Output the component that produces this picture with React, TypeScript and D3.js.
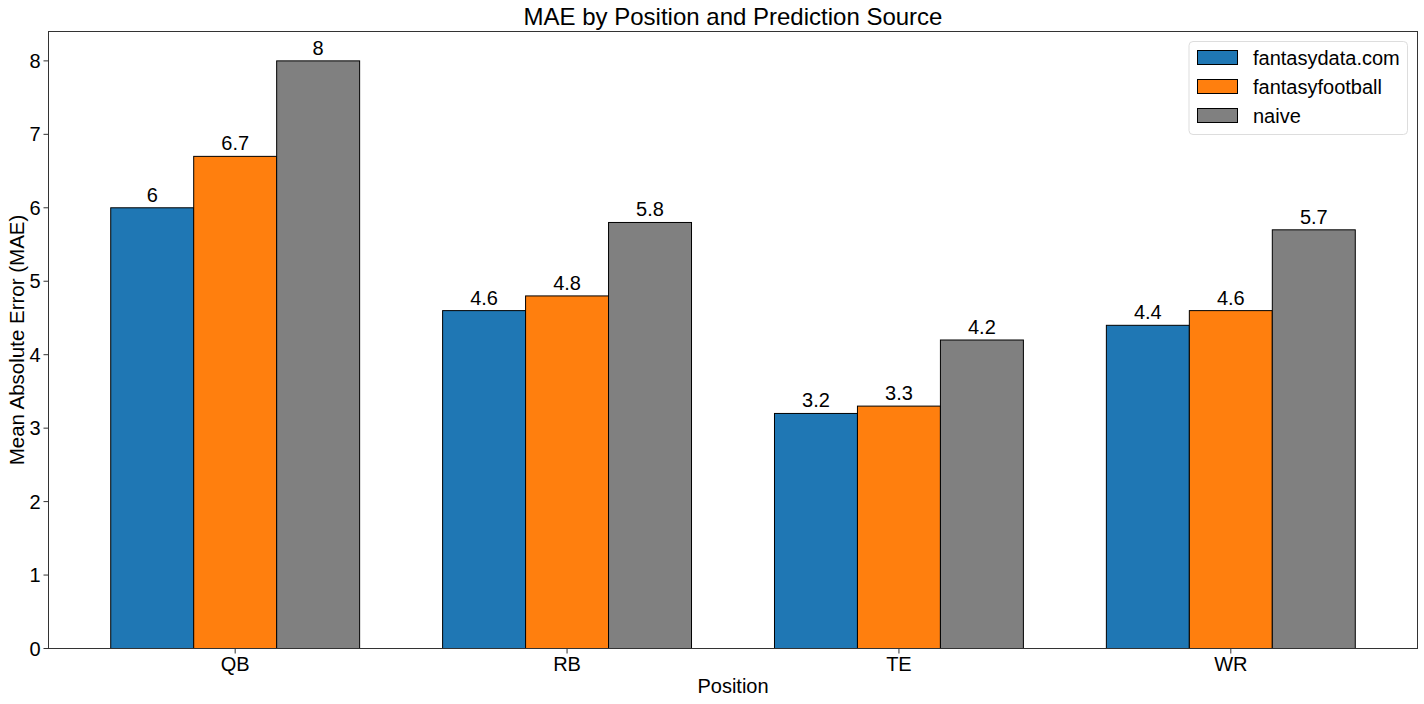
import React from "react";
import * as d3 from "d3";

const positions = ["QB", "RB", "TE", "WR"];
const sources = ["fantasydata.com", "fantasyfootball", "naive"];
const colors = ["#1f77b4", "#ff7f0e", "#808080"];
const fantasydata = [6, 4.6, 3.2, 4.4];
const fantasyfootball = [6.7, 4.8, 3.3, 4.6];
const naive = [8, 5.8, 4.2, 5.7];
const yTicks = [0, 1, 2, 3, 4, 5, 6, 7, 8];

const series = [fantasydata, fantasyfootball, naive];

export default function App() {
  const W = 1424, H = 704;
  const left = 48.5, right = 1417.5, top = 31.5, bottom = 648.5;
  const barW = 0.25;
  const x = d3.scaleLinear().domain([-0.5625, 3.5625]).range([left, right]);
  const y = d3.scaleLinear().domain([0, 8.4]).range([bottom, top]);
  const font = "'Liberation Sans', Arial, Helvetica, sans-serif";

  return (
    <svg width={W} height={H} style={{ position: "absolute", left: 0, top: 0, background: "#fff" }} fontFamily={font}>
      <rect x={0} y={0} width={W} height={H} fill="#fff" />
      {series.map((vals, si) =>
        vals.map((v, i) => {
          const cx = i + (si - 1) * barW;
          const x0 = x(cx - barW / 2);
          const x1 = x(cx + barW / 2);
          return (
            <g key={`${si}-${i}`}>
              <rect x={x0} y={y(v)} width={x1 - x0} height={y(0) - y(v)} fill={colors[si]} stroke="#000" strokeWidth={1} />
              <text x={(x0 + x1) / 2} y={y(v) - 6} textAnchor="middle" fontSize={20} fill="#000">{String(v)}</text>
            </g>
          );
        })
      )}
      {/* axes frame */}
      <rect x={left} y={top} width={right - left} height={bottom - top} fill="none" stroke="#333" strokeWidth={1} />
      {yTicks.map((t) => (
        <g key={t}>
          <line x1={left - 5} x2={left} y1={y(t)} y2={y(t)} stroke="#333" />
          <text x={left - 8} y={y(t)} dy="0.35em" textAnchor="end" fontSize={20} fill="#000">{t}</text>
        </g>
      ))}
      {positions.map((p, i) => (
        <g key={p}>
          <line x1={x(i)} x2={x(i)} y1={bottom} y2={bottom + 5} stroke="#333" />
          <text x={x(i)} y={bottom + 22} textAnchor="middle" fontSize={20} fill="#000">{p}</text>
        </g>
      ))}
      <text x={(left + right) / 2} y={25} textAnchor="middle" fontSize={24} fill="#000">MAE by Position and Prediction Source</text>
      <text x={(left + right) / 2} y={693} textAnchor="middle" fontSize={20} fill="#000">Position</text>
      <text transform={`translate(24, ${(top + bottom) / 2}) rotate(-90)`} textAnchor="middle" fontSize={20.5} fill="#000">Mean Absolute Error (MAE)</text>
      {/* legend */}
      <rect x={1189} y={41.5} width={218.5} height={93} rx={4} fill="#fff" fillOpacity={0.8} stroke="#ddd" />
      {sources.map((s, i) => (
        <g key={s}>
          <rect x={1197.5} y={50.5 + i * 29} width={40} height={14} fill={colors[i]} stroke="#000" />
          <text x={1253} y={57.5 + i * 29} dy="0.35em" fontSize={20} fill="#000">{s}</text>
        </g>
      ))}
    </svg>
  );
}
